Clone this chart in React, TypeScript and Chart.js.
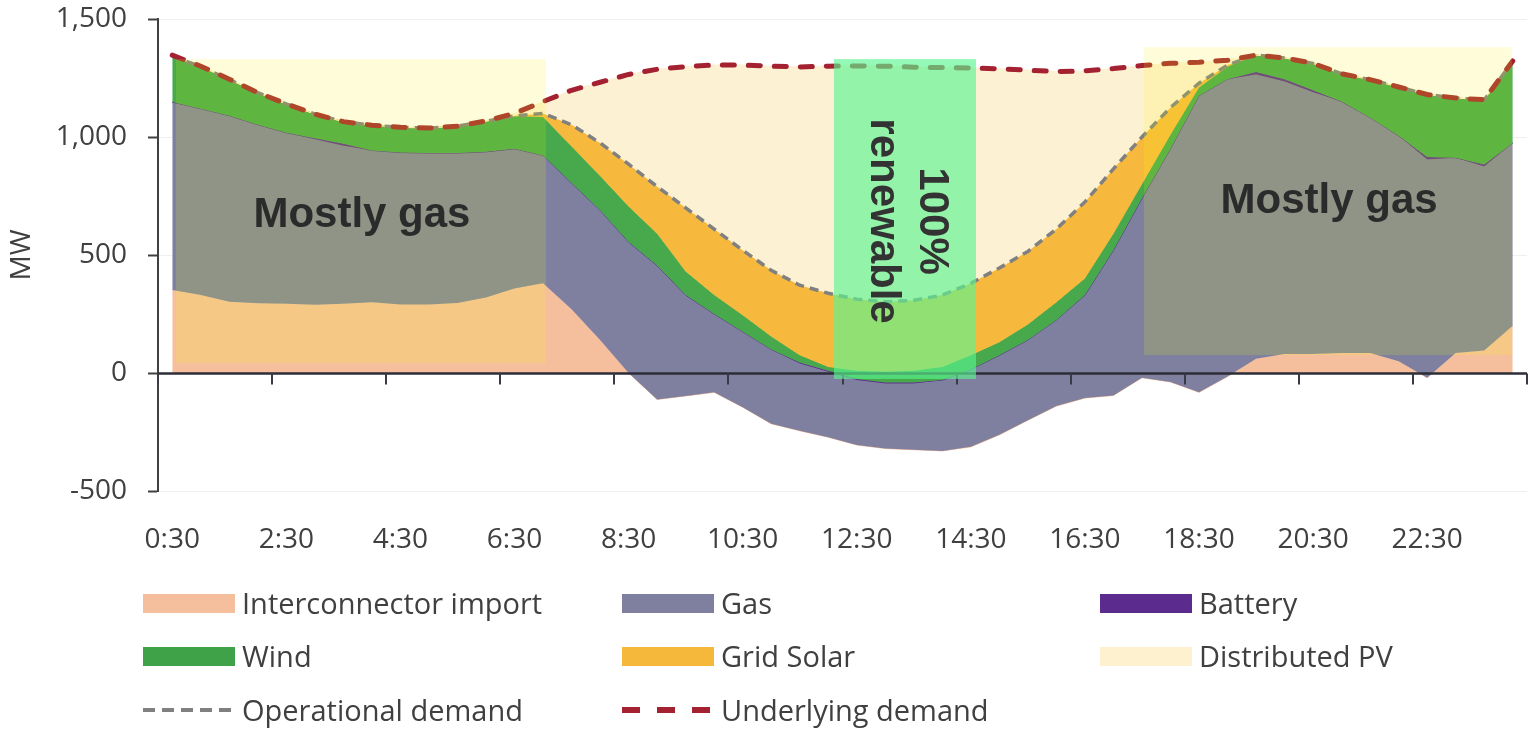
import React, { useEffect, useRef } from 'react';
import { Chart, registerables } from 'chart.js';

Chart.register(...registerables);

// ---------- data ----------
const timeLabels = [
  '0:30', '1:00', '1:30', '2:00', '2:30', '3:00', '3:30', '4:00', '4:30', '5:00', '5:30', '6:00',
  '6:30', '7:00', '7:30', '8:00', '8:30', '9:00', '9:30', '10:00', '10:30', '11:00', '11:30', '12:00',
  '12:30', '13:00', '13:30', '14:00', '14:30', '15:00', '15:30', '16:00', '16:30', '17:00', '17:30', '18:00',
  '18:30', '19:00', '19:30', '20:00', '20:30', '21:00', '21:30', '22:00', '22:30', '23:00', '23:30', '24:00',
];

const interconnectorImport = [
  352, 330, 302, 296, 293, 289, 293, 300, 290, 290, 297, 320,
  358, 380, 270, 140, 0, -112, -97, -82, -145, -215, -245, -272,
  -305, -320, -325, -330, -313, -262, -200, -140, -106, -95, -20, -38,
  -82, -15, 60, 80, 80, 85, 85, 50, -20, 85, 95, 200,
];
const gas = [
  796, 790, 788, 756, 725, 701, 670, 643, 644, 642, 635, 617,
  592, 542, 535, 550, 555, 567, 427, 332, 320, 315, 285, 277,
  275, 275, 280, 300, 328, 337, 340, 365, 436, 615, 760, 988,
  1257, 1260, 1205, 1155, 1110, 1065, 997, 955, 925, 827, 780, 775,
];
const battery = [
  0, 0, 0, 0, 0, 5, 8, 0, 0, 0, 0, 0,
  0, 0, 0, 0, 0, 0, 0, 0, 0, 0, 5, 5,
  5, 5, 5, 0, 0, 0, 0, 0, 0, 0, 0, 0,
  0, 0, 10, 10, 8, 0, 0, 0, 10, 0, 8, 0,
];
const wind = [
  194, 178, 153, 136, 122, 102, 94, 107, 107, 106, 114, 129,
  138, 163, 155, 145, 150, 135, 100, 80, 70, 55, 30, 15,
  35, 45, 50, 55, 60, 55, 65, 75, 70, 70, 60, 60,
  35, 53, 72, 90, 114, 118, 161, 207, 265, 253, 275, 345,
];
const gridSolar = [
  0, 0, 0, 0, 0, 0, 0, 0, 0, 0, 0, 0,
  2, 15, 92, 140, 180, 200, 270, 280, 275, 280, 297, 313,
  303, 297, 298, 305, 305, 315, 310, 310, 325, 275, 200, 115,
  18, 7, 0, 0, 0, 0, 0, 0, 0, 0, 0, 0,
];
const distributedPV = [
  5, 2, 2, 0, 0, 0, 0, 0, 0, 0, 0, 2,
  10, 50, 146, 257, 380, 497, 598, 695, 785, 865, 925, 962,
  988, 998, 988, 964, 912, 844, 768, 667, 555, 425, 303, 187,
  89, 20, 0, 0, 0, 0, 0, 0, 0, 0, 0, 2,
];
const operationalDemand = [
  1342, 1298, 1243, 1188, 1140, 1097, 1065, 1050, 1041, 1038, 1046, 1066,
  1090, 1100, 1052, 975, 885, 790, 700, 610, 520, 435, 372, 338,
  313, 302, 308, 330, 380, 445, 515, 610, 725, 865, 1000, 1125,
  1228, 1305, 1347, 1335, 1312, 1268, 1243, 1212, 1180, 1165, 1158, 1320,
];
const underlyingDemand = [
  1347, 1300, 1245, 1188, 1140, 1097, 1065, 1050, 1041, 1038, 1046, 1068,
  1100, 1150, 1198, 1232, 1265, 1287, 1298, 1305, 1305, 1300, 1297, 1300,
  1301, 1300, 1296, 1294, 1292, 1289, 1283, 1277, 1280, 1290, 1303, 1312,
  1317, 1325, 1347, 1335, 1312, 1268, 1243, 1212, 1180, 1165, 1158, 1322,
];

const yMin = -500;
const yMax = 1500;
const yStep = 500;
const xLabelEvery = 4;

// ---------- styling / layout ----------
const AXIS_FONT = '"Open Sans", "Noto Sans", sans-serif';
const TEXT_GREY = '#404040';

const AREA_STACK = [
  { label: 'Interconnector import', values: interconnectorImport, color: '#F5BF9E' },
  { label: 'Gas', values: gas, color: '#7F809F' },
  { label: 'Battery', values: battery, color: '#5B2C8E' },
  { label: 'Wind', values: wind, color: '#47A94B' },
  { label: 'Grid Solar', values: gridSolar, color: '#F6B93D' },
  { label: 'Distributed PV', values: distributedPV, color: '#FDF1D3' },
];

const OP_COLOR = '#808080';
const UND_COLOR = '#A32130';

// highlight boxes: x in category index units, y in MW
const HIGHLIGHTS = [
  { kind: 'gas', xFrom: 0.13, xTo: 13.1, yFrom: 42, yTo: 1330, lines: ['Mostly gas'], tx: 6.65, ty: 619, rotate: false },
  { kind: 'gas', xFrom: 34.07, xTo: 46.97, yFrom: 76, yTo: 1381, lines: ['Mostly gas'], tx: 40.56, ty: 678, rotate: false },
  { kind: 'renew', xFrom: 23.2, xTo: 28.18, yFrom: -25, yTo: 1330, lines: ['100%', 'renewable'], tx: 25.78, ty: 644, rotate: true },
];

const LEGEND_COLS = [143, 622, 1100];
const LEGEND_ROWS = [603, 656, 710];
const LEGEND_ITEMS = [
  { label: 'Interconnector import', type: 'box', color: '#F5BF9E', col: 0, row: 0 },
  { label: 'Gas', type: 'box', color: '#7F809F', col: 1, row: 0 },
  { label: 'Battery', type: 'box', color: '#5B2C8E', col: 2, row: 0 },
  { label: 'Wind', type: 'box', color: '#3FA148', col: 0, row: 1 },
  { label: 'Grid Solar', type: 'box', color: '#F5B83A', col: 1, row: 1 },
  { label: 'Distributed PV', type: 'box', color: '#FDF1D0', col: 2, row: 1 },
  { label: 'Operational demand', type: 'grey', color: OP_COLOR, col: 0, row: 2 },
  { label: 'Underlying demand', type: 'red', color: UND_COLOR, col: 1, row: 2 },
];

const overlayPlugin = {
  id: 'overlays',
  beforeDraw(chart: any) {
    const { ctx, width, height } = chart;
    ctx.save();
    ctx.fillStyle = '#ffffff';
    ctx.fillRect(0, 0, width, height);
    ctx.restore();
  },
  afterDatasetsDraw(chart: any) {
    const { ctx, chartArea } = chart;
    const x = chart.scales.x;
    const y = chart.scales.y;
    ctx.save();
    // zero axis with tick marks every 4 categories
    const y0 = Math.round(y.getPixelForValue(0)) + 0.5;
    ctx.strokeStyle = '#2D2D38';
    ctx.lineWidth = 2.5;
    ctx.beginPath();
    ctx.moveTo(chartArea.left, y0);
    ctx.lineTo(chartArea.right, y0);
    ctx.stroke();
    ctx.lineWidth = 2;
    ctx.strokeStyle = '#3A3A44';
    for (let j = 0; j <= timeLabels.length; j += xLabelEvery) {
      const px = Math.round(x.getPixelForValue(j - 0.5));
      ctx.beginPath();
      ctx.moveTo(px, y0);
      ctx.lineTo(px, y0 + 11);
      ctx.stroke();
    }
    // highlight boxes
    for (const b of HIGHLIGHTS) {
      const l = x.getPixelForValue(b.xFrom);
      const r = x.getPixelForValue(b.xTo);
      const t = y.getPixelForValue(b.yTo);
      const btm = y.getPixelForValue(b.yFrom);
      if (b.kind === 'gas') {
        ctx.globalCompositeOperation = 'multiply';
        ctx.fillStyle = 'rgb(255,253,217)';
        ctx.fillRect(l, t, r - l, btm - t);
        ctx.globalCompositeOperation = 'screen';
        ctx.fillStyle = 'rgb(32,42,0)';
        ctx.fillRect(l, t, r - l, btm - t);
        ctx.globalCompositeOperation = 'source-over';
      } else {
        ctx.fillStyle = 'rgba(90,245,145,0.65)';
        ctx.fillRect(l, t, r - l, btm - t);
      }
    }
    // texts
    for (const b of HIGHLIGHTS) {
      const px = x.getPixelForValue(b.tx);
      const py = y.getPixelForValue(b.ty);
      ctx.save();
      ctx.font = 'bold 42px "Liberation Sans", Arial, sans-serif';
      ctx.fillStyle = b.kind === 'gas' ? '#2B2B2B' : '#333333';
      ctx.textAlign = 'center';
      if (b.rotate) {
        ctx.translate(px, py);
        ctx.rotate(Math.PI / 2);
        ctx.textBaseline = 'middle';
        const n = b.lines.length;
        b.lines.forEach((s, k) => {
          ctx.fillText(s, 0, (k - (n - 1) / 2) * 49);
        });
      } else {
        ctx.textBaseline = 'alphabetic';
        ctx.fillText(b.lines[0], px, py);
      }
      ctx.restore();
    }
    ctx.restore();
  },
};

export default function App() {
  const canvasRef = useRef<HTMLCanvasElement | null>(null);

  useEffect(() => {
    if (!canvasRef.current) return;
    const running = new Array(timeLabels.length).fill(0);
    const areaSets = AREA_STACK.map((s, idx) => {
      for (let i = 0; i < running.length; i++) running[i] += s.values[i];
      return {
        label: s.label,
        data: running.slice(),
        backgroundColor: s.color,
        borderColor: s.color,
        borderWidth: 1,
        pointRadius: 0,
        tension: 0,
        fill: idx === 0 ? 'origin' : '-1',
        order: 20 - idx,
      };
    });

    const chart = new Chart(canvasRef.current, {
      type: 'line',
      data: {
        labels: timeLabels,
        datasets: [
          ...areaSets,
          {
            label: 'Operational demand',
            data: operationalDemand,
            borderColor: OP_COLOR,
            borderWidth: 3.5,
            borderDash: [9, 6],
            pointRadius: 0,
            fill: false,
            tension: 0,
            order: 2,
          },
          {
            label: 'Underlying demand',
            data: underlyingDemand,
            borderColor: UND_COLOR,
            borderWidth: 5,
            borderDash: [12, 14],
            borderCapStyle: 'round',
            pointRadius: 0,
            fill: false,
            tension: 0,
            order: 1,
          },
        ] as any,
      },
      options: {
        responsive: false,
        animation: false,
        events: [],
        layout: { padding: { top: 19, right: 3, bottom: 0, left: 0 } },
        plugins: {
          legend: { display: false },
          tooltip: { enabled: false },
        },
        scales: {
          x: {
            type: 'category',
            offset: true,
            grid: { display: false, drawTicks: false },
            border: { display: false },
            ticks: {
              autoSkip: false,
              maxRotation: 0,
              minRotation: 0,
              padding: 32,
              color: TEXT_GREY,
              font: { family: AXIS_FONT, size: 28 },
              callback: (_v: any, i: number) => (i % xLabelEvery === 0 ? timeLabels[i] : ''),
            },
            afterFit: (scale: any) => {
              scale.height = 240;
              scale.paddingLeft = 0;
              scale.paddingRight = 0;
            },
          },
          y: {
            min: yMin,
            max: yMax,
            ticks: {
              stepSize: yStep,
              padding: 21,
              color: TEXT_GREY,
              font: { family: AXIS_FONT, size: 28 },
              callback: (v: any) => Number(v).toLocaleString('en-US'),
            },
            grid: {
              color: '#EFEFEF',
              lineWidth: 1,
              tickColor: '#404040',
              tickLength: 10,
              tickWidth: 2,
            },
            border: { display: true, color: '#404040', width: 2 },
            title: {
              display: true,
              text: 'MW',
              color: TEXT_GREY,
              font: { family: AXIS_FONT, size: 28 },
              padding: { top: 5, bottom: 0 },
            },
            afterFit: (scale: any) => {
              scale.width = 158;
              scale.paddingTop = 0;
              scale.paddingBottom = 0;
            },
          },
        },
      } as any,
      plugins: [overlayPlugin],
    });
    return () => chart.destroy();
  }, []);

  return (
    <div style={{ position: 'fixed', left: 0, top: 0, width: 1530, height: 731, background: '#fff', overflow: 'hidden' }}>
      <canvas ref={canvasRef} width={1530} height={731} style={{ position: 'absolute', left: 0, top: 0, width: 1530, height: 731 }} />
      {LEGEND_ITEMS.map((it) => {
        const left = LEGEND_COLS[it.col];
        const cy = LEGEND_ROWS[it.row];
        return (
          <div key={it.label} style={{ position: 'absolute', left, top: cy - 20, height: 40, display: 'flex', alignItems: 'center', whiteSpace: 'nowrap' }}>
            {it.type === 'box' ? (
              <div style={{ width: 92, height: 19, background: it.color }} />
            ) : (
              <svg width={92} height={10} style={{ display: 'block' }}>
                <line
                  x1={0}
                  y1={5}
                  x2={91}
                  y2={5}
                  stroke={it.color}
                  strokeWidth={it.type === 'red' ? 6 : 4}
                  strokeDasharray={it.type === 'red' ? '18 17' : '12 7'}
                />
              </svg>
            )}
            <span style={{ marginLeft: 7, fontFamily: AXIS_FONT, fontSize: 29, color: TEXT_GREY, lineHeight: '40px' }}>{it.label}</span>
          </div>
        );
      })}
    </div>
  );
}
